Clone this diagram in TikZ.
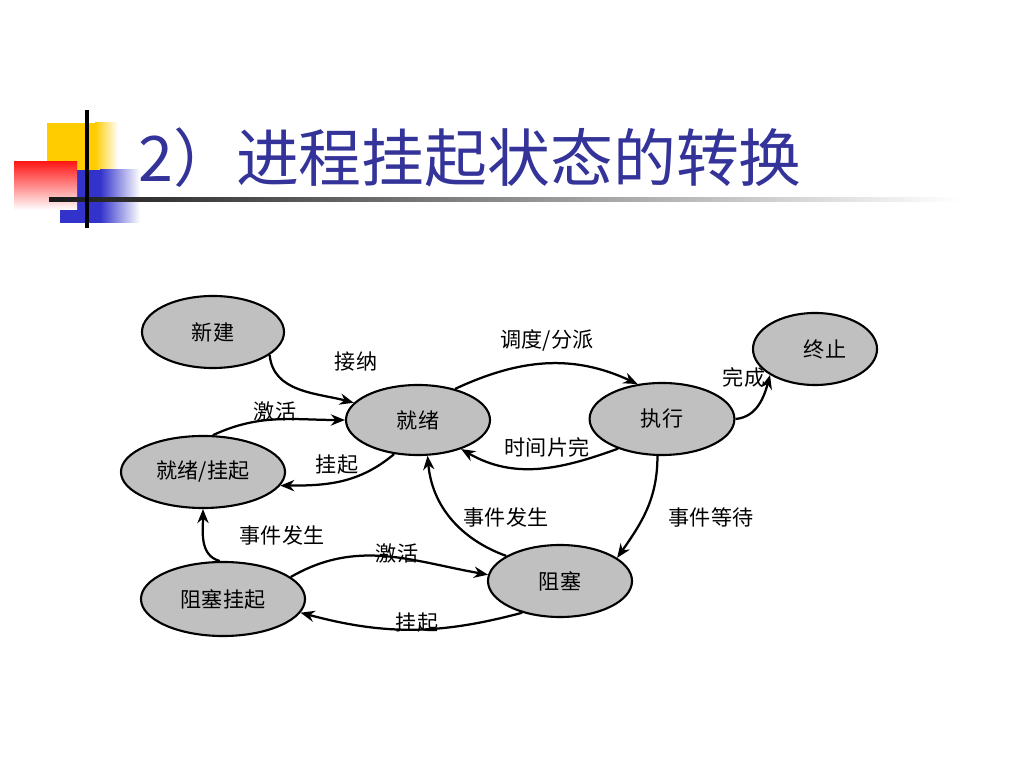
\documentclass[tikz,border=0pt]{standalone}
\usepackage{fontspec}
\setmainfont{Noto Sans CJK SC}
\usetikzlibrary{shapes.geometric,arrows.meta}
\definecolor{titleblue}{RGB}{51,51,153}
\definecolor{stategray}{RGB}{192,192,192}
\definecolor{decoyellow}{RGB}{255,204,0}
\definecolor{decoblue}{RGB}{51,51,204}
\definecolor{decored}{RGB}{255,25,25}

\begin{document}
\begin{tikzpicture}[x=0.025cm, y=0.025cm,
	zhuangtai/.style={ellipse, draw, line width=1.5pt, fill=stategray, minimum width=3.6cm, minimum height=1.8cm, inner sep=0pt, font=\fontsize{15}{17}\selectfont},
	biaoqian/.style={inner sep=0pt, font=\fontsize{15}{17}\selectfont},
	zhuanhuan/.style={-{Stealth[length=10pt,width=8pt]}, line width=1.6pt}]
	\useasboundingbox (0,0) rectangle (1024,768);
	% decoration and title
	\fill[decoyellow] (47,598) rectangle (96,645);
	\shade[left color=decoyellow, right color=white] (95,598) rectangle (118,645);
	\fill[decoblue] (60,545) rectangle (101,598);
	\shade[left color=decoblue, right color=white] (100,545) rectangle (140,598);
	\shade[shading angle=45, top color=decored, bottom color=white] (14,558) rectangle (77,606);
	\shade[left color=black!90, middle color=black!35, right color=white] (49,566) rectangle (960,570);
	\draw[line width=2.2pt] (87,540) -- (87,658);
	\node[anchor=west, inner sep=0pt, text=titleblue, font=\fontsize{44.7}{50}\selectfont] (titel) at (138,610) {2）进程挂起状态的转换};
	% states
	\node[zhuangtai, minimum width=3.55cm] (xinjian) at (213,436) {新建};
	\node[zhuangtai, minimum height=1.75cm] (jiuxu) at (418,348) {就绪};
	\node[zhuangtai, minimum width=3.62cm] (zhixing) at (662,349) {执行};
	\node[zhuangtai, minimum width=3.1cm] (zhongzhi) at (815,419) {\hspace{0.5cm}终止};
	\node[zhuangtai, minimum width=4.1cm] (jxgq) at (203,296) {就绪/挂起};
	\node[zhuangtai] (zuse) at (560,187) {阻塞};
	\node[zhuangtai, minimum width=4.1cm, minimum height=1.85cm] (zsgq) at (223,169) {阻塞挂起};
	% transitions
	\draw[zhuanhuan] (xinjian.-22) to[out=-85, in=165] (jiuxu.165);
	\draw[zhuanhuan] (jxgq.75) to[out=25, in=180] (jiuxu.west);
	\draw[zhuanhuan] (jiuxu.-125) to[out=-140, in=0] (jxgq.-10);
	\draw[zhuanhuan] (jiuxu.40) to[out=25, in=155] (zhixing.125);
	\draw[zhuanhuan] (zhixing.-146) to[out=-160, in=-30] (jiuxu.-34);
	\draw[zhuanhuan] (zhixing.east) to[out=5, in=-105] (zhongzhi.-150);
	\draw[zhuanhuan] (zhixing.-97) to[out=-90, in=55] (zuse.22);
	\draw[zhuanhuan] (zuse.155) to[out=160, in=-85] (jiuxu.-75);
	\draw[zhuanhuan] (zsgq.95) to[out=165, in=-90] (jxgq.south);
	\draw[zhuanhuan] (zsgq.18) to[out=30, in=170] (zuse.175);
	\draw[zhuanhuan] (zuse.-140) to[out=-165, in=-15] (zsgq.-10);
	% labels
	\node[biaoqian] (l-jiena) at (356,406) {接纳};
	\node[biaoqian] (l-jihuo1) at (275,357) {激活};
	\node[biaoqian] (l-guaqi1) at (337,303) {挂起};
	\node[biaoqian] (l-diaodu) at (547,428) {调度/分派};
	\node[biaoqian] (l-wancheng) at (744,391) {完成};
	\node[biaoqian] (l-shijian) at (547,321) {时间片完};
	\node[biaoqian] (l-fasheng1) at (506,251) {事件发生};
	\node[biaoqian] (l-dengdai) at (711,251) {事件等待};
	\node[biaoqian] (l-fasheng2) at (282,233) {事件发生};
	\node[biaoqian] (l-jihuo2) at (397,215) {激活};
	\node[biaoqian] (l-guaqi2) at (417,145) {挂起};
\end{tikzpicture}
\end{document}
